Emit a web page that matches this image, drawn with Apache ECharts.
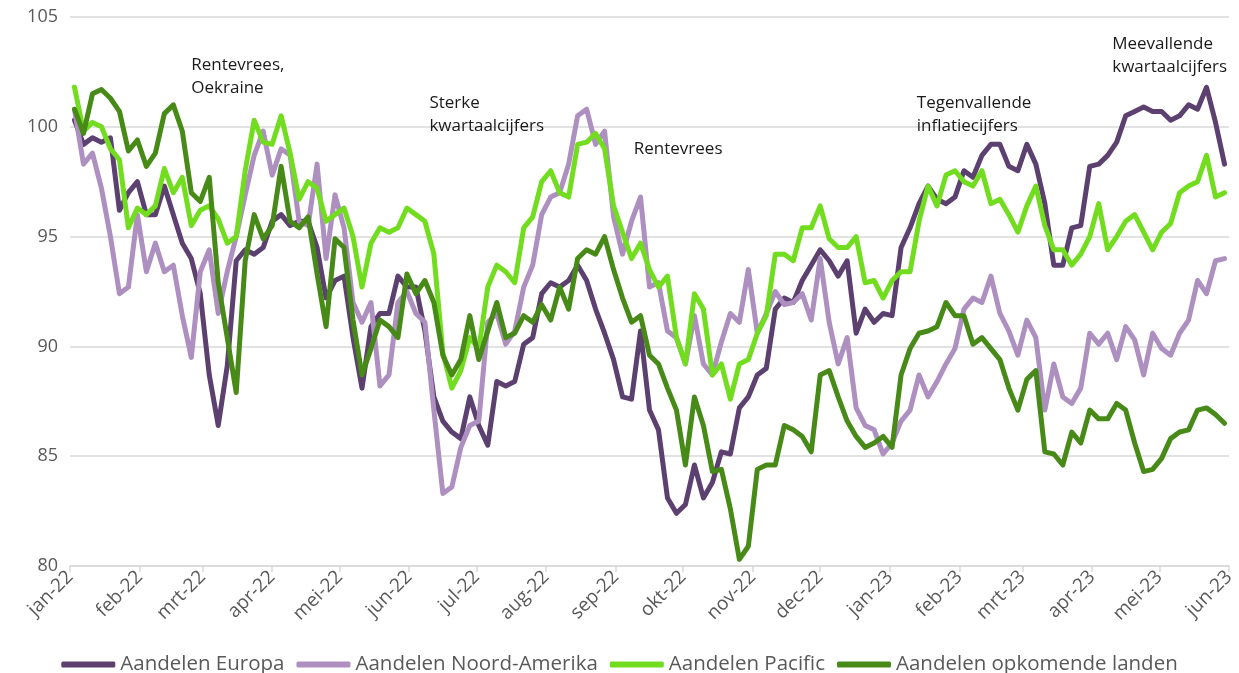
<!DOCTYPE html>
<html>
<head>
<meta charset="utf-8">
<script src="https://cdn.jsdelivr.net/npm/echarts@6/dist/echarts.min.js"></script>
<style>
  html, body { margin: 0; padding: 0; background: #fff; }
  #main { width: 1239px; height: 673px; }
</style>
</head>
<body>
<div id="main"></div>
<script>
// maandnamen voor de as
var maanden = ['jan', 'feb', 'mrt', 'apr', 'mei', 'jun', 'jul', 'aug', 'sep', 'okt', 'nov', 'dec'];

// koersindex (jan-22 = 100), elke 4 dagen vanaf 3 januari 2022
var europa = [
  100.3, 99.2, 99.5, 99.3, 99.5, 96.2, 97.0, 97.5, 96.0, 96.0, 97.3, 96.0, 94.7, 94.0, 92.4, 88.7, 86.4, 89.1, 93.9, 94.4, 94.2, 94.5, 95.7,
  96.0, 95.5, 95.7, 95.7, 94.5, 92.2, 93.0, 93.2, 90.4, 88.1, 90.9, 91.5, 91.5, 93.2, 92.7, 92.7, 90.7, 87.7, 86.6, 86.1, 85.8, 87.7,
  86.4, 85.5, 88.4, 88.2, 88.4, 90.1, 90.4, 92.4, 92.9, 92.7, 93.0, 93.7, 93.0, 91.7, 90.6, 89.4, 87.7, 87.6, 90.7, 87.1, 86.2, 83.1, 82.4,
  82.8, 84.6, 83.1, 83.8, 85.2, 85.1, 87.2, 87.7, 88.7, 89.0, 91.7, 92.2, 92.0, 93.0, 93.7, 94.4, 93.9, 93.2, 93.9, 90.6, 91.7, 91.1,
  91.5, 91.4, 94.5, 95.4, 96.5, 97.3, 96.7, 96.5, 96.8, 98.0, 97.7, 98.7, 99.2, 99.2, 98.2, 98.0, 99.2, 98.3, 96.5, 93.7,
  93.7, 95.4, 95.5, 98.2, 98.3, 98.7, 99.3, 100.5, 100.7, 100.9, 100.7, 100.7, 100.3, 100.5, 101.0, 100.8, 101.8, 100.2, 98.3
];
var noordAmerika = [
  100.8, 98.3, 98.8, 97.2, 95.0, 92.4, 92.7, 96.0, 93.4, 94.7, 93.4, 93.7, 91.4, 89.5, 93.4, 94.4, 91.5, 93.4, 95.0, 96.9, 98.7, 99.8, 97.8,
  99.0, 98.7, 95.7, 95.5, 98.3, 94.0, 96.9, 95.4, 92.0, 91.1, 92.0, 88.2, 88.7, 92.0, 92.5, 91.5, 91.1, 87.1, 83.3, 83.6, 85.4, 86.4,
  86.6, 91.1, 91.5, 90.1, 90.7, 92.7, 93.7, 96.0, 96.8, 97.0, 98.3, 100.5, 100.8, 99.2, 99.8, 95.9, 94.2, 95.7, 96.8, 92.7, 92.9, 90.7, 90.4,
  89.2, 91.4, 89.2, 88.7, 90.2, 91.5, 91.1, 93.5, 90.6, 91.5, 92.5, 91.9, 92.0, 92.4, 91.2, 94.0, 91.1, 89.2, 90.4, 87.2, 86.4, 86.2,
  85.1, 85.6, 86.6, 87.1, 88.7, 87.7, 88.4, 89.2, 89.9, 91.7, 92.2, 92.0, 93.2, 91.5, 90.7, 89.6, 91.2, 90.4, 87.1, 89.2,
  87.7, 87.4, 88.1, 90.6, 90.1, 90.6, 89.4, 90.9, 90.3, 88.7, 90.6, 89.9, 89.6, 90.6, 91.2, 93.0, 92.4, 93.9, 94.0
];
var pacific = [
  101.8, 99.8, 100.2, 100.0, 99.0, 98.5, 95.4, 96.3, 96.0, 96.4, 98.1, 97.0, 97.7, 95.5, 96.2, 96.4, 95.8, 94.7, 95.0, 98.0, 100.3, 99.3, 99.2,
  100.5, 98.8, 96.7, 97.5, 97.2, 95.7, 96.0, 96.3, 95.0, 92.7, 94.7, 95.4, 95.2, 95.4, 96.3, 96.0, 95.7, 94.2, 89.7, 88.1, 88.9, 90.4,
  89.9, 92.7, 93.7, 93.4, 92.9, 95.4, 95.9, 97.5, 98.0, 97.0, 96.8, 99.2, 99.3, 99.7, 99.0, 96.4, 95.2, 94.0, 94.7, 93.5, 92.7, 93.2, 90.4,
  89.2, 92.4, 91.7, 88.7, 89.2, 87.6, 89.2, 89.4, 90.6, 91.4, 94.2, 94.2, 93.9, 95.4, 95.4, 96.4, 94.9, 94.5, 94.5, 95.0, 92.9, 93.0,
  92.2, 93.0, 93.4, 93.4, 95.7, 97.3, 96.4, 97.8, 98.0, 97.5, 97.3, 98.0, 96.5, 96.7, 96.0, 95.2, 96.4, 97.3, 95.5, 94.4,
  94.4, 93.7, 94.2, 95.0, 96.5, 94.4, 95.0, 95.7, 96.0, 95.2, 94.4, 95.2, 95.6, 97.0, 97.3, 97.5, 98.7, 96.8, 97.0
];
var opkomend = [
  100.8, 99.7, 101.5, 101.7, 101.3, 100.7, 98.9, 99.4, 98.2, 98.8, 100.6, 101.0, 99.8, 97.0, 96.6, 97.7, 92.9, 90.4, 87.9, 93.9, 96.0, 94.9, 95.5,
  98.2, 95.7, 95.4, 95.9, 93.3, 90.9, 94.9, 94.5, 91.2, 88.7, 89.9, 91.2, 90.9, 90.4, 93.3, 92.4, 93.0, 92.0, 89.6, 88.7, 89.4, 91.4,
  89.4, 90.7, 92.0, 90.4, 90.6, 91.4, 91.1, 91.9, 91.2, 92.7, 91.7, 94.0, 94.4, 94.2, 95.0, 93.5, 92.2, 91.1, 91.4, 89.6, 89.2, 88.1, 87.1,
  84.6, 87.7, 86.4, 84.3, 84.4, 82.6, 80.3, 80.9, 84.4, 84.6, 84.6, 86.4, 86.2, 85.9, 85.2, 88.7, 88.9, 87.7, 86.6, 85.9, 85.4, 85.6,
  85.9, 85.4, 88.7, 89.9, 90.6, 90.7, 90.9, 92.0, 91.4, 91.4, 90.1, 90.4, 89.9, 89.4, 88.1, 87.1, 88.5, 88.9, 85.2, 85.1,
  84.6, 86.1, 85.6, 87.1, 86.7, 86.7, 87.4, 87.1, 85.6, 84.3, 84.4, 84.9, 85.8, 86.1, 86.2, 87.1, 87.2, 86.9, 86.5
];

var namen = ['Aandelen Europa', 'Aandelen Noord-Amerika', 'Aandelen Pacific', 'Aandelen opkomende landen'];
var reeksen = [europa, noordAmerika, pacific, opkomend];
var kleuren = ['#5c406f', '#ad8fc0', '#72dd1f', '#488a17'];

// teksten bij de grafiek: [datum, niveau, tekst]
var notities = [
  ['2022-02-24', 102.3, 'Rentevrees,\nOekraine'],
  ['2022-06-10', 100.55, 'Sterke\nkwartaalcijfers'],
  ['2022-09-09', 99.0, 'Rentevrees'],
  ['2023-01-13', 100.55, 'Tegenvallende\ninflatiecijfers'],
  ['2023-04-10', 103.25, 'Meevallende\nkwartaalcijfers']
];

// datums van de punten
var datums = [];
for (var i = 0; i < europa.length; i++) {
  datums.push(+new Date(2022, 0, 3 + 4 * i));
}
// maandgrenzen jan-22 t/m jun-23
var maandTicks = [];
for (var m = 0; m <= 17; m++) {
  maandTicks.push(+new Date(2022, m, 1));
}

var font = "'Open Sans', 'Noto Sans', sans-serif";

var series = reeksen.map(function (r, k) {
  return {
    name: namen[k],
    type: 'line',
    showSymbol: false,
    data: r.map(function (v, j) { return [datums[j], v]; }),
    lineStyle: { width: 5, color: kleuren[k], cap: 'round', join: 'round' },
    itemStyle: { color: kleuren[k] },
    z: 2 + k
  };
});

series.push({
  name: 'notities',
  type: 'line',
  data: [],
  markPoint: {
    symbol: 'circle',
    symbolSize: 0,
    label: {
      show: true,
      position: 'right',
      distance: 0,
      color: '#1a1a1a',
      fontSize: 17,
      lineHeight: 23,
      fontFamily: font,
      formatter: function (p) { return p.name; }
    },
    data: notities.map(function (n) {
      var d = n[0].split('-');
      return { name: n[2], coord: [+new Date(+d[0], +d[1] - 1, +d[2]), n[1]] };
    })
  }
});

var chart = echarts.init(document.getElementById('main'));
chart.setOption({
  animation: false,
  textStyle: { fontFamily: font },
  grid: { left: 70, right: 10, top: 17, bottom: 107 },
  legend: {
    data: namen,
    top: 649,
    left: 'center',
    icon: 'roundRect',
    itemWidth: 54,
    itemHeight: 6,
    itemGap: 12,
    textStyle: { color: '#595959', fontSize: 20.5, fontFamily: font }
  },
  xAxis: {
    type: 'value',
    min: maandTicks[0],
    max: maandTicks[maandTicks.length - 1],
    axisLine: { lineStyle: { color: '#d9d9d9', width: 1.5 } },
    axisTick: { show: true, customValues: maandTicks, length: 6, lineStyle: { color: '#d9d9d9', width: 1.5 } },
    axisLabel: {
      customValues: maandTicks,
      rotate: 45,
      color: '#595959',
      fontSize: 19,
      margin: 8,
      formatter: function (v) {
        var d = new Date(v);
        return maanden[d.getMonth()] + '-' + String(d.getFullYear()).slice(2);
      }
    },
    splitLine: { show: false }
  },
  yAxis: {
    type: 'value',
    min: 80,
    max: 105,
    interval: 5,
    axisLine: { show: false },
    axisTick: { show: false },
    axisLabel: { color: '#595959', fontSize: 18, margin: 12 },
    splitLine: { lineStyle: { color: '#d9d9d9', width: 1.5 } }
  },
  series: series
});
</script>
</body>
</html>
